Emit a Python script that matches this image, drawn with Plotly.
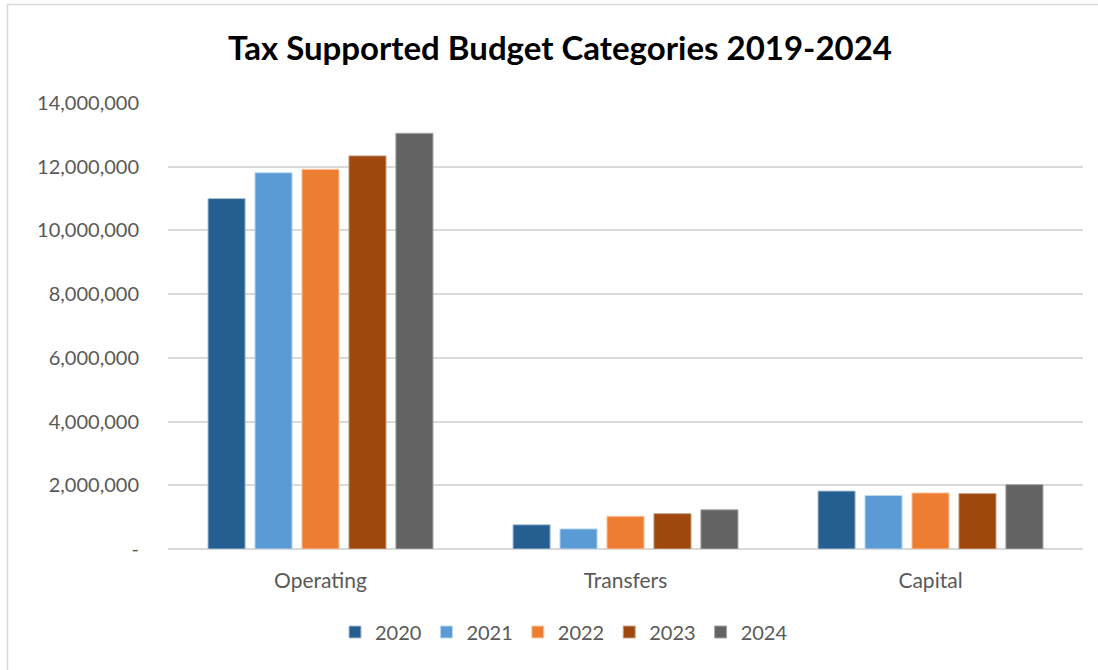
import plotly.graph_objects as go

# Budget categories and yearly amounts (tax supported)
categories = ["Operating", "Transfers", "Capital"]
years = ["2020", "2021", "2022", "2023", "2024"]
values_2020 = [11000000, 760000, 1820000]
values_2021 = [11810000, 630000, 1680000]
values_2022 = [11920000, 1030000, 1760000]
values_2023 = [12340000, 1110000, 1740000]
values_2024 = [13050000, 1230000, 2020000]
series_values = [values_2020, values_2021, values_2022, values_2023, values_2024]

colors = ["#255E91", "#5B9BD5", "#ED7D31", "#9E480E", "#636363"]
edge_colors = ["#A9BFD6", "#BDD7EE", "#F8CBAD", "#C9A38A", "#A6A6A6"]

tick_vals = [0, 2000000, 4000000, 6000000, 8000000, 10000000, 12000000, 14000000]
tick_text = ["-", "2,000,000", "4,000,000", "6,000,000", "8,000,000",
             "10,000,000", "12,000,000", "14,000,000"]

font_family = "Lato, 'Open Sans', sans-serif"

fig = go.Figure()
for year, vals, col, edge in zip(years, series_values, colors, edge_colors):
    fig.add_trace(go.Bar(
        name=year, x=categories, y=vals,
        marker=dict(color=col, line=dict(color=edge, width=1)),
    ))

W, H = 1098, 670
ml, mr, mt, mb = 168, 15, 103, 121
pw, ph = W - ml - mr, H - mt - mb

fig.update_layout(
    width=W, height=H,
    margin=dict(l=ml, r=mr, t=mt, b=mb),
    paper_bgcolor="white", plot_bgcolor="white",
    barmode="group", bargap=0.23, bargroupgap=0.21,
    font=dict(family=font_family, color="#595959", size=19),
    title=dict(
        text="<b>Tax Supported Budget Categories 2019-2024</b>",
        x=560 / W, xanchor="center", xref="container",
        y=1 - 48 / H, yanchor="middle", yref="container",
        font=dict(family=font_family, size=33, color="#000000"),
    ),
    xaxis=dict(
        showgrid=False, showline=False, ticks="",
        ticklabelstandoff=17,
        tickfont=dict(size=21, color="#595959"),
    ),
    yaxis=dict(
        range=[0, 14000000], tickvals=tick_vals, ticktext=tick_text,
        showgrid=True, gridcolor="#D9D9D9", gridwidth=1.5,
        zeroline=True, zerolinecolor="#D9D9D9", zerolinewidth=1.5,
        showline=False, ticks="", ticklabelstandoff=28,
        tickfont=dict(size=20, color="#595959"),
    ),
    legend=dict(
        orientation="h", xref="container", yref="container",
        x=564 / W, xanchor="center", y=1 - 632 / H, yanchor="middle",
        font=dict(size=20, color="#595959"),
        itemwidth=30, traceorder="normal",
    ),
    shapes=[dict(
        type="rect", xref="paper", yref="paper",
        x0=(7.5 - ml) / pw, x1=(W + 5 - ml) / pw,
        y0=(mt + ph - (H + 5)) / ph, y1=(mt + ph - 4.5) / ph,
        line=dict(color="#D9D9D9", width=1.5), layer="below",
    )],
)

fig.write_html("out.html")
